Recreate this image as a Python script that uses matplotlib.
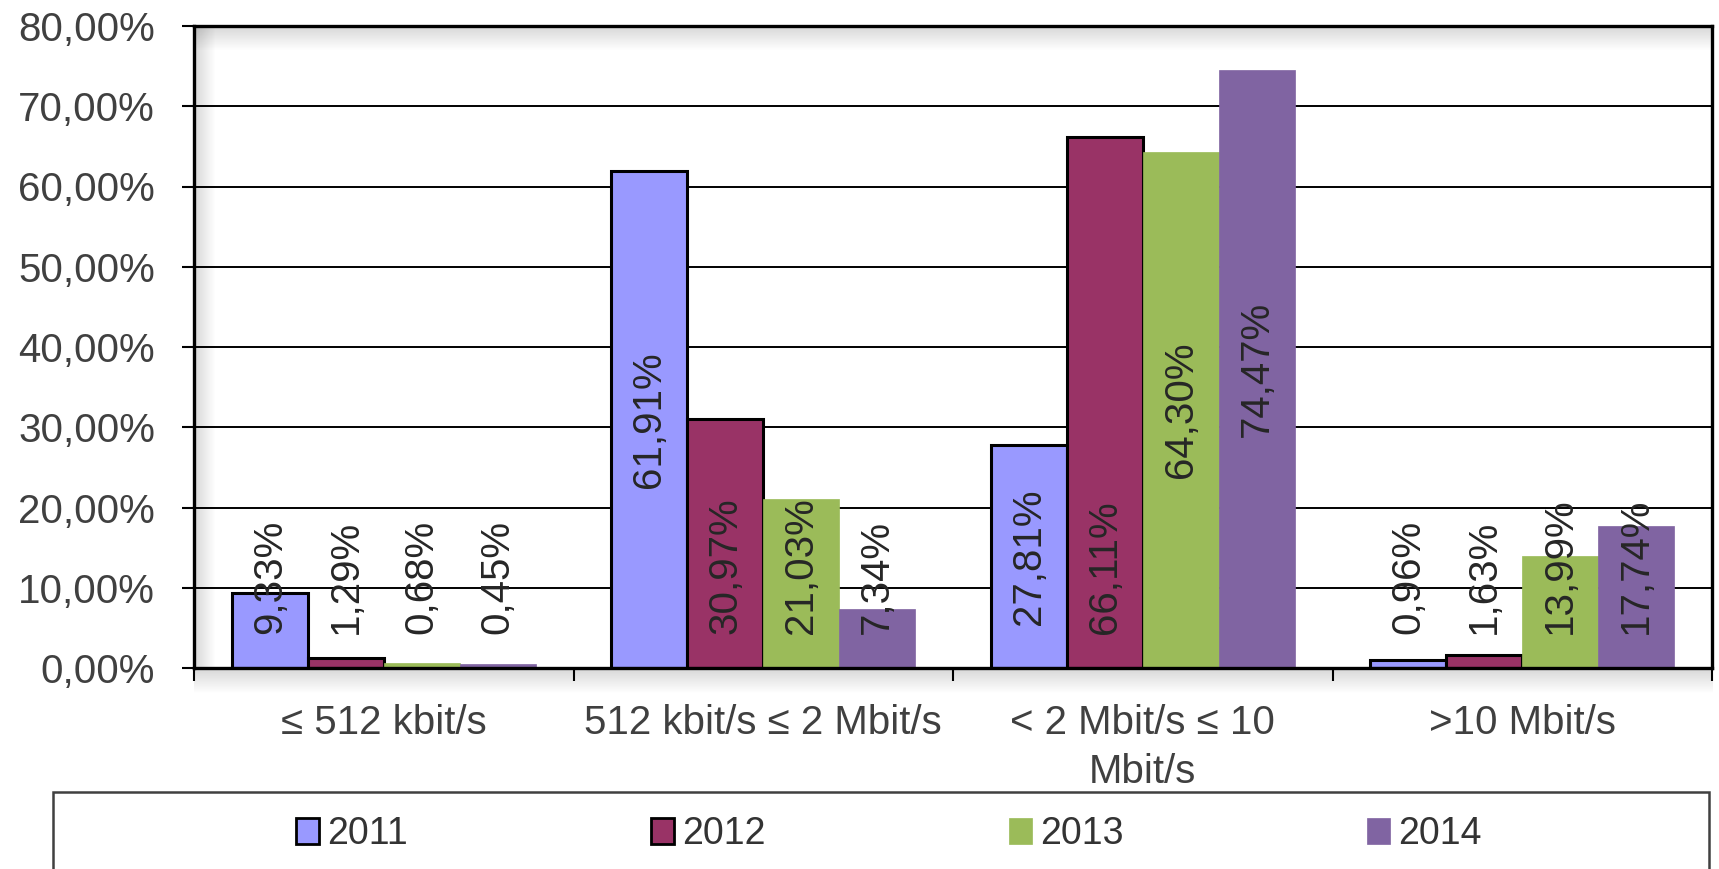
import matplotlib
matplotlib.use('Agg')
import matplotlib.pyplot as plt
import numpy as np
from matplotlib.patches import Rectangle, Patch

plt.rcParams['font.family'] = ['Liberation Sans', 'DejaVu Sans']

categories = ['≤ 512 kbit/s', '512 kbit/s ≤ 2 Mbit/s', '< 2 Mbit/s ≤ 10\nMbit/s', '>10 Mbit/s']
years = ['2011', '2012', '2013', '2014']
share_2011 = [9.33, 61.91, 27.81, 0.96]
share_2012 = [1.29, 30.97, 66.11, 1.63]
share_2013 = [0.68, 21.03, 64.30, 13.99]
share_2014 = [0.45, 7.34, 74.47, 17.74]
series = [share_2011, share_2012, share_2013, share_2014]

colors = ['#9999FF', '#993366', '#9BBB59', '#8064A2']
edges = ['black', 'black', None, None]
# labels centred in their bar (series, category); the others start near the base
mid_labels = {(0, 1), (0, 2), (2, 2), (3, 2)}

W, H = 1719, 869
fig = plt.figure(figsize=(W / 100, H / 100), dpi=100)
ax = fig.add_axes([194 / W, 1 - 668 / H, (1712 - 194) / W, (668 - 26) / H])

x = np.arange(len(categories))
w = 0.2
for i, vals in enumerate(series):
    ec = edges[i] if edges[i] else colors[i]
    ax.bar(x + (i - 1.5) * w, vals, w, color=colors[i], edgecolor=ec,
           linewidth=2.2 if edges[i] else 0.5, zorder=3)
    for j, v in enumerate(vals):
        txt = f'{v:.2f}%'.replace('.', ',')
        if (i, j) in mid_labels:
            ax.text(x[j] + (i - 1.5) * w, v / 2, txt, rotation=90, ha='center', va='center',
                    fontsize=29, color='#262626', zorder=4)
        else:
            ax.text(x[j] + (i - 1.5) * w, 4.2, txt, rotation=90, ha='center', va='bottom',
                    fontsize=29, color='#262626', zorder=4)


def shade(extent, direction):
    n = 40
    a = np.linspace(0.16, 0.0, n)
    rgba = np.zeros((n, 1, 4)) if direction == 'v' else np.zeros((1, n, 4))
    if direction == 'v':
        rgba[:, 0, 3] = a
    else:
        rgba[0, :, 3] = a
    im = ax.imshow(rgba, extent=extent, transform=ax.transAxes, aspect='auto',
                   origin='upper', zorder=1, interpolation='bilinear')
    im.set_clip_on(False)


# soft shadow of the plot frame
shade([0, 1, 1 - 25 / 642, 1], 'v')
shade([0, 22 / 1518, 0, 1], 'h')
shade([0, 1, -26 / 642, 0], 'v')

ax.set_xlim(-0.5, 3.5)
ax.set_ylim(0, 80)
ax.set_yticks(np.arange(0, 81, 10))
ax.set_yticklabels([f'{t:.2f}%'.replace('.', ',') for t in np.arange(0, 81, 10)])
ax.yaxis.grid(True, color='black', linewidth=1.4, zorder=2)
ax.set_axisbelow(True)
for s in ax.spines.values():
    s.set_linewidth(2.4)
    s.set_color('black')
    s.set_zorder(5)

ax.set_xticks(np.arange(-0.5, 4, 1))
ax.set_xticklabels([])
ax.set_xticks(x, minor=True)
ax.set_xticklabels(categories, minor=True, linespacing=1.35)
ax.tick_params(axis='x', which='major', length=9, width=1.5, direction='out')
ax.tick_params(axis='x', which='minor', length=0, pad=26, labelsize=29, labelcolor='#404040')
ax.tick_params(axis='y', length=9, width=1.5, direction='out', pad=19, labelsize=29,
               labelcolor='#404040')

handles = [Patch(facecolor=c, edgecolor=(e if e else c), linewidth=2 if e else 0.5)
           for c, e in zip(colors, edges)]
fig.legend(handles, years, loc='center left', bbox_to_anchor=(296 / W, 1 - 834 / H), ncol=4,
           frameon=False, fontsize=27, handlelength=0.6, handleheight=0.7, handletextpad=0.22,
           columnspacing=6.5, borderpad=0, borderaxespad=0, labelcolor='#333333')
fig.add_artist(Rectangle((53 / W, -0.05), (1709 - 53) / W, (1 - 792 / H) + 0.05,
                         transform=fig.transFigure, fill=False, edgecolor='#404040', lw=1.8))

fig.savefig('out.png', dpi=100, facecolor='white')
